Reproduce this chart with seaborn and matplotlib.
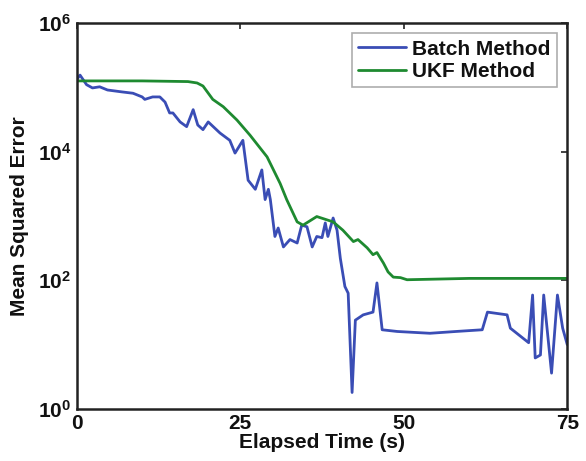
import numpy as np
import pandas as pd
import matplotlib
matplotlib.use('Agg')
import matplotlib.pyplot as plt
import seaborn as sns

# ====================
# data
# ====================
batch_t = [0, 0.5, 1.5, 2.4, 3.5, 4.7, 6.9, 8.6, 10, 10.4, 11.6, 12.7, 13.5,
           14.2, 14.7, 15.8, 16.8, 17.8, 18.5, 19.3, 20.1, 21.9, 23.4, 24.2,
           25.4, 26.2, 27.3, 28.3, 28.8, 29.3, 29.6, 30.3, 30.8, 31.6, 32.6,
           33.7, 34.4, 35.2, 36, 36.7, 37.5, 38, 38.4, 39.2, 39.8, 40.3, 41,
           41.5, 42.1, 42.6, 43.8, 45.3, 45.9, 46.7, 49, 54, 58, 62, 62.8,
           65.8, 66.3, 69.1, 69.7, 70.1, 70.9, 71.4, 72.6, 73.5, 74.3, 75]
batch_mse = [1.32e5, 1.55e5, 1.1e5, 9.8e4, 1.02e5, 9.1e4, 8.5e4, 8.1e4, 7.1e4,
             6.5e4, 7.1e4, 7.1e4, 5.9e4, 4.0e4, 4.0e4, 2.9e4, 2.45e4, 4.5e4,
             2.6e4, 2.2e4, 2.9e4, 1.95e4, 1.5e4, 9.5e3, 1.5e4, 3.6e3, 2.6e3,
             5.2e3, 1.8e3, 2.6e3, 1.8e3, 480, 650, 330, 430, 380, 720, 680,
             330, 480, 460, 780, 480, 930, 600, 220, 80, 63, 1.8, 24, 29, 32,
             91, 17, 16, 15, 16, 17, 32, 29, 18, 10.7, 59, 6.2, 6.9, 59, 3.6,
             59, 18, 10]

ukf_t = [0, 10, 17, 18.4, 19.3, 20.8, 22.4, 24.5, 26.5, 29.1, 31.1, 32.1, 33.7,
         34.6, 36.7, 39.2, 40.7, 42.3, 43, 44.4, 45.3, 45.9, 46.9, 47.6, 48.4,
         49.5, 50.5, 60, 75]
ukf_mse = [1.26e5, 1.26e5, 1.23e5, 1.17e5, 1.05e5, 6.5e4, 5.0e4, 3.1e4, 1.8e4,
           8.3e3, 3.2e3, 1.8e3, 810, 720, 980, 810, 600, 400, 430, 320, 250,
           270, 185, 135, 112, 110, 102, 107, 107]

methods = ['Batch Method', 'UKF Method']
colors = {'Batch Method': '#3a4db5', 'UKF Method': '#1e8a30'}
x_ticks = [0, 25, 50, 75]
y_ticks = [1e0, 1e2, 1e4, 1e6]
y_ticklabels = [r'$\mathbf{10^{0}}$', r'$\mathbf{10^{2}}$',
                r'$\mathbf{10^{4}}$', r'$\mathbf{10^{6}}$']

df = pd.concat([
    pd.DataFrame({'t': batch_t, 'mse': batch_mse, 'Method': methods[0]}),
    pd.DataFrame({'t': ukf_t, 'mse': ukf_mse, 'Method': methods[1]}),
])

# ====================
# style
# ====================
sns.set_style('white')
plt.rcParams['font.family'] = ['Liberation Sans', 'DejaVu Sans']
plt.rcParams['mathtext.fontset'] = 'custom'
plt.rcParams['mathtext.bf'] = 'Liberation Sans:bold'
plt.rcParams['mathtext.rm'] = 'Liberation Sans'
plt.rcParams['text.color'] = '#111111'
plt.rcParams['axes.labelcolor'] = '#111111'
plt.rcParams['xtick.color'] = '#111111'
plt.rcParams['ytick.color'] = '#111111'

fig = plt.figure(figsize=(5.86, 4.61), dpi=100)
ax = fig.add_axes([0.131, 0.113, 0.837, 0.837])

sns.lineplot(data=df, x='t', y='mse', hue='Method', hue_order=methods,
             palette=colors, estimator=None, sort=False, linewidth=2, ax=ax)

ax.set_yscale('log')
ax.set_xlim(0, 75)
ax.set_ylim(1, 1e6)
ax.set_xticks(x_ticks)
ax.set_xticklabels([str(v) for v in x_ticks], fontsize=15, fontweight='bold')
ax.set_yticks(y_ticks)
ax.set_yticklabels(y_ticklabels, fontsize=15)
ax.minorticks_off()
ax.tick_params(direction='in', length=4, width=1.2, top=True, right=True,
               color='#222222', pad=4)

for sp in ax.spines.values():
    sp.set_linewidth(1.8)
    sp.set_color('#222222')

ax.set_xlabel('Elapsed Time (s)', fontsize=15, fontweight='bold', labelpad=0)
ax.set_ylabel('Mean Squared Error', fontsize=15, fontweight='bold', labelpad=6)

leg = ax.legend(loc='upper right', fontsize=15, frameon=True, fancybox=False,
                edgecolor='#999999', handlelength=2.3, handletextpad=0.3,
                borderpad=0.3, labelspacing=0.15, borderaxespad=0.5)
leg.get_frame().set_linewidth(1.2)
for t in leg.get_texts():
    t.set_fontweight('bold')
for h in leg.get_lines():
    h.set_linewidth(2)

fig.savefig('out.png', dpi=100, facecolor='white')
